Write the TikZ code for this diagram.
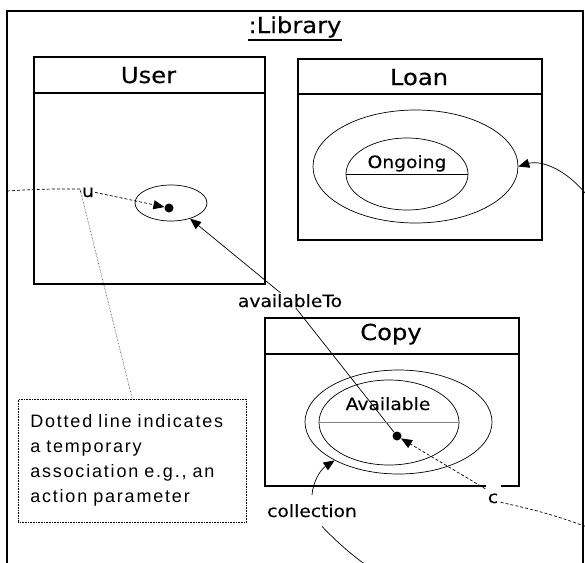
\documentclass[tikz,border=0pt]{standalone}
\usepackage{fontspec}
\setmainfont{DejaVu Sans}[FakeStretch=1.1, FakeBold=0.3]
\newfontfamily\notefont{Liberation Sans}[LetterSpace=10]
\usetikzlibrary{shapes.geometric,arrows.meta,backgrounds,calc}
\begin{document}
\begin{tikzpicture}[x=1pt,y=-1pt,
  classbox/.style={draw, line width=1.8pt, inner sep=0pt, anchor=north west},
  divider/.style={line width=2.6pt},
  frameline/.style={line width=1.8pt},
  titletxt/.style={font=\fontsize{22}{26}\selectfont, anchor=base, inner sep=0pt},
  lbl/.style={font=\fontsize{17}{20}\selectfont, anchor=base, inner sep=1pt},
  ell/.style={draw, ellipse, line width=0.7pt, inner sep=0pt},
  dotst/.style={circle, fill=black, inner sep=0pt, minimum size=9pt},
  conn/.style={line width=0.7pt},
  dashline/.style={line width=0.7pt, dash pattern=on 3pt off 2pt},
  dotline/.style={line width=0.5pt, densely dotted},
  tip/.style={-{Triangle[length=11pt,width=9pt]}},
  notest/.style={draw, densely dotted, line width=0.6pt, anchor=north west,
    minimum width=228pt, minimum height=123pt, inner xsep=12pt, inner ysep=0pt,
    text width=204pt, align=left, font=\notefont\fontsize{18}{25}\selectfont}]
\useasboundingbox (0,0) rectangle (585,562);
\clip (0,0) rectangle (585,562);

% outer frame
\draw[frameline] (7,566) -- (7,11) -- (583,11) -- (583,566);
\node[titletxt] (library) at (295,33) {:Library};
\draw[line width=1.1pt] ($(library.base west)+(0,7)$) -- ($(library.base east)+(0,7)$);

% User
\node[classbox, minimum width=231pt, minimum height=227pt] (userbox) at (33,56) {};
\draw[divider] ($(userbox.north west)+(0,37)$) -- ($(userbox.north east)+(0,37)$);
\node[titletxt] (usertitle) at (148.5,83) {User};
\node[ell, minimum width=72pt, minimum height=36pt] (userstate) at (171,203) {};
\node[dotst] (userdot) at (169,208) {};

% Loan
\node[classbox, minimum width=244pt, minimum height=181pt] (loanbox) at (297,58) {};
\draw[divider] ($(loanbox.north west)+(0,36)$) -- ($(loanbox.north east)+(0,36)$);
\node[titletxt] (loantitle) at (419,85) {Loan};
\node[ell, minimum width=205pt, minimum height=113pt] (loanouter) at (415.5,166.5) {};
\node[ell, minimum width=122pt, minimum height=72pt] (ongoing) at (407,174) {};
\draw[conn] (ongoing.west) -- (ongoing.east);
\node[lbl] (ongoingtxt) at (407,168) {Ongoing};

% Copy
\node[classbox, minimum width=254pt, minimum height=168pt] (copybox) at (264,317) {};
\draw[divider] ($(copybox.north west)+(0,37)$) -- ($(copybox.north east)+(0,37)$);
\node[titletxt] (copytitle) at (391,340) {Copy};
\node[ell, minimum width=187pt, minimum height=104pt] (copyouter) at (398.5,422) {};
\node[ell, minimum width=140pt, minimum height=85pt] (available) at (389,422.5) {};
\draw[conn, gray] (available.west) -- (available.east);
\node[lbl] (availabletxt) at (388,410) {Available};
\node[dotst] (copydot) at (397,436) {};

% note
\node[notest] (note) at (18,399) {Dotted line indicates\\a temporary\\association e.g., an\\action parameter};

% labels
\node[lbl] (u) at (88,197) {u};
\node[lbl, fill=white, text height=19.5pt, minimum width=15pt] (c) at (493,503) {c};
\node[lbl, fill=white] (avail) at (290,307) {availableTo};
\node[lbl, inner ysep=9pt] (collection) at (312,517) {collection};

\coordinate (uleft) at (7,191);
\coordinate (ucorner) at (80,189);
\coordinate (loanin) at (592,202);
\coordinate (cright) at (590,528);
\coordinate (collout) at (370,568);

\begin{scope}[on background layer]
  \draw[conn, tip] (copydot) -- (avail.center) -- (userstate);
\end{scope}

\draw[dashline] (uleft) to[bend left=2] (ucorner) -- (u.west);
\draw[dashline, tip] (u.east) -- (userdot);
\draw[dotline] (ucorner) -- (note.north);
\draw[dashline, tip] (c) -- (copydot);
\draw[dashline] ($(c.east)+(0,9)$) to[bend left=4] (cright);
\draw[conn, tip] (loanin) .. controls (568,168) and (540,160) .. (loanouter.east);
\draw[conn, tip] (collection.north) .. controls (313,482) and (320,470) .. (copyouter.211);
\draw[conn] ($(collection.south)+(10,0)$) .. controls (340,545) and (352,555) .. (collout);
\end{tikzpicture}
\end{document}
